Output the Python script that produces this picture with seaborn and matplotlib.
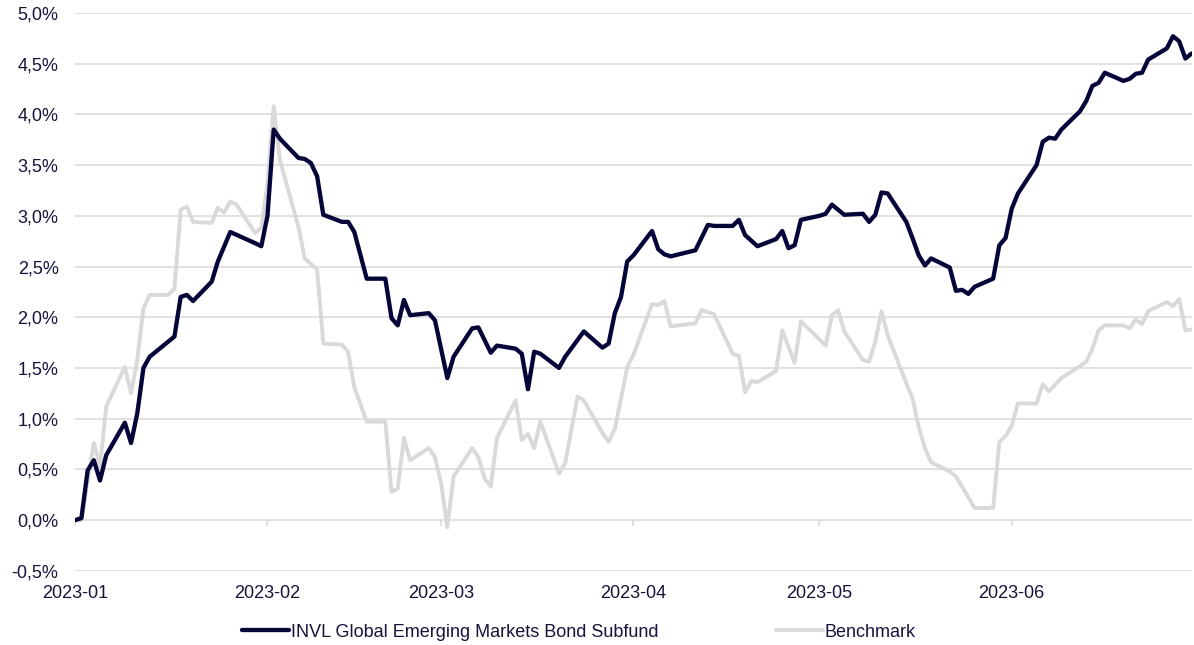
import matplotlib
matplotlib.use("Agg")
import matplotlib.pyplot as plt
import matplotlib.dates as mdates
from matplotlib.ticker import FuncFormatter, MultipleLocator
import seaborn as sns
import pandas as pd

# fund returns, %
fund_dates = [
    "2023-01-01", "2023-01-02", "2023-01-03", "2023-01-04", "2023-01-05", "2023-01-06",
    "2023-01-09", "2023-01-10", "2023-01-11", "2023-01-12", "2023-01-13", "2023-01-17",
    "2023-01-18", "2023-01-19", "2023-01-20", "2023-01-23", "2023-01-24", "2023-01-26",
    "2023-01-30", "2023-01-31", "2023-02-01", "2023-02-02", "2023-02-03", "2023-02-06",
    "2023-02-07", "2023-02-08", "2023-02-09", "2023-02-10", "2023-02-13", "2023-02-14",
    "2023-02-15", "2023-02-17", "2023-02-20", "2023-02-21", "2023-02-22", "2023-02-23",
    "2023-02-24", "2023-02-27", "2023-02-28", "2023-03-02", "2023-03-03", "2023-03-06",
    "2023-03-07", "2023-03-09", "2023-03-10", "2023-03-13", "2023-03-14", "2023-03-15",
    "2023-03-16", "2023-03-17", "2023-03-20", "2023-03-21", "2023-03-24", "2023-03-27",
    "2023-03-28", "2023-03-29", "2023-03-30", "2023-03-31", "2023-04-01", "2023-04-04",
    "2023-04-05", "2023-04-06", "2023-04-07", "2023-04-11", "2023-04-13", "2023-04-14",
    "2023-04-17", "2023-04-18", "2023-04-19", "2023-04-21", "2023-04-24", "2023-04-25",
    "2023-04-26", "2023-04-27", "2023-04-28", "2023-05-01", "2023-05-02", "2023-05-03",
    "2023-05-05", "2023-05-08", "2023-05-09", "2023-05-10", "2023-05-11", "2023-05-12",
    "2023-05-15", "2023-05-16", "2023-05-17", "2023-05-18", "2023-05-19", "2023-05-22",
    "2023-05-23", "2023-05-24", "2023-05-25", "2023-05-26", "2023-05-29", "2023-05-30",
    "2023-05-31", "2023-06-01", "2023-06-02", "2023-06-05", "2023-06-06", "2023-06-07",
    "2023-06-08", "2023-06-09", "2023-06-12", "2023-06-13", "2023-06-14", "2023-06-15",
    "2023-06-16", "2023-06-19", "2023-06-20", "2023-06-21", "2023-06-22", "2023-06-23",
    "2023-06-26", "2023-06-27", "2023-06-28", "2023-06-29", "2023-06-30",
]
fund_values = [
    0.00, 0.02, 0.49, 0.59, 0.39, 0.64,
    0.96, 0.76, 1.05, 1.50, 1.61, 1.81,
    2.20, 2.22, 2.16, 2.35, 2.55, 2.84,
    2.73, 2.70, 3.00, 3.85, 3.76, 3.57,
    3.56, 3.52, 3.39, 3.01, 2.94, 2.94,
    2.84, 2.38, 2.38, 1.99, 1.92, 2.17,
    2.02, 2.04, 1.97, 1.40, 1.61, 1.89,
    1.90, 1.65, 1.72, 1.69, 1.64, 1.29,
    1.66, 1.64, 1.50, 1.61, 1.86, 1.70,
    1.74, 2.04, 2.20, 2.55, 2.61, 2.85,
    2.67, 2.62, 2.60, 2.66, 2.91, 2.90,
    2.90, 2.96, 2.81, 2.70, 2.77, 2.85,
    2.68, 2.71, 2.96, 3.00, 3.02, 3.11,
    3.01, 3.02, 2.94, 3.01, 3.23, 3.22,
    2.94, 2.78, 2.61, 2.51, 2.58, 2.49,
    2.26, 2.27, 2.23, 2.30, 2.38, 2.71,
    2.78, 3.07, 3.22, 3.50, 3.73, 3.77,
    3.76, 3.85, 4.03, 4.13, 4.28, 4.31,
    4.41, 4.33, 4.35, 4.40, 4.41, 4.54,
    4.65, 4.77, 4.72, 4.55, 4.60,
]

# benchmark returns, %
bench_dates = [
    "2023-01-01", "2023-01-02", "2023-01-04", "2023-01-05", "2023-01-06", "2023-01-09",
    "2023-01-10", "2023-01-11", "2023-01-12", "2023-01-13", "2023-01-16", "2023-01-17",
    "2023-01-18", "2023-01-19", "2023-01-20", "2023-01-23", "2023-01-24", "2023-01-25",
    "2023-01-26", "2023-01-27", "2023-01-30", "2023-01-31", "2023-02-01", "2023-02-02",
    "2023-02-03", "2023-02-06", "2023-02-07", "2023-02-09", "2023-02-10", "2023-02-13",
    "2023-02-14", "2023-02-15", "2023-02-17", "2023-02-20", "2023-02-21", "2023-02-22",
    "2023-02-23", "2023-02-24", "2023-02-27", "2023-02-28", "2023-03-01", "2023-03-02",
    "2023-03-03", "2023-03-06", "2023-03-07", "2023-03-08", "2023-03-09", "2023-03-10",
    "2023-03-13", "2023-03-14", "2023-03-15", "2023-03-16", "2023-03-17", "2023-03-20",
    "2023-03-21", "2023-03-23", "2023-03-24", "2023-03-27", "2023-03-28", "2023-03-29",
    "2023-03-30", "2023-03-31", "2023-04-01", "2023-04-04", "2023-04-05", "2023-04-06",
    "2023-04-07", "2023-04-11", "2023-04-12", "2023-04-14", "2023-04-17", "2023-04-18",
    "2023-04-19", "2023-04-20", "2023-04-21", "2023-04-24", "2023-04-25", "2023-04-27",
    "2023-04-28", "2023-05-02", "2023-05-03", "2023-05-04", "2023-05-05", "2023-05-08",
    "2023-05-09", "2023-05-10", "2023-05-11", "2023-05-12", "2023-05-15", "2023-05-16",
    "2023-05-17", "2023-05-18", "2023-05-19", "2023-05-22", "2023-05-23", "2023-05-24",
    "2023-05-26", "2023-05-29", "2023-05-30", "2023-05-31", "2023-06-01", "2023-06-02",
    "2023-06-05", "2023-06-06", "2023-06-07", "2023-06-09", "2023-06-13", "2023-06-14",
    "2023-06-15", "2023-06-16", "2023-06-19", "2023-06-20", "2023-06-21", "2023-06-22",
    "2023-06-23", "2023-06-26", "2023-06-27", "2023-06-28", "2023-06-29", "2023-06-30",
]
bench_values = [
    0.00, 0.00, 0.76, 0.53, 1.12, 1.51,
    1.25, 1.58, 2.09, 2.22, 2.22, 2.28,
    3.06, 3.09, 2.94, 2.93, 3.08, 3.03,
    3.14, 3.11, 2.83, 2.88, 3.32, 4.08,
    3.55, 2.89, 2.58, 2.47, 1.74, 1.73,
    1.66, 1.31, 0.97, 0.97, 0.28, 0.31,
    0.81, 0.59, 0.71, 0.62, 0.36, -0.07,
    0.43, 0.71, 0.62, 0.41, 0.33, 0.81,
    1.18, 0.79, 0.85, 0.71, 0.97, 0.46,
    0.56, 1.22, 1.18, 0.86, 0.77, 0.90,
    1.20, 1.51, 1.63, 2.13, 2.12, 2.16,
    1.91, 1.94, 2.07, 2.03, 1.64, 1.62,
    1.26, 1.37, 1.36, 1.47, 1.87, 1.55,
    1.96, 1.72, 2.02, 2.07, 1.86, 1.58,
    1.56, 1.76, 2.06, 1.82, 1.35, 1.20,
    0.92, 0.71, 0.57, 0.48, 0.43, 0.33,
    0.12, 0.12, 0.77, 0.83, 0.93, 1.15,
    1.15, 1.34, 1.27, 1.40, 1.56, 1.69,
    1.87, 1.92, 1.92, 1.89, 1.98, 1.93,
    2.06, 2.15, 2.11, 2.18, 1.87, 1.88,
]

month_ticks = ["2023-01-01", "2023-02-01", "2023-03-01", "2023-04-01", "2023-05-01", "2023-06-01"]

fund_name = "INVL Global Emerging Markets Bond Subfund"
bench_name = "Benchmark"

fund_df = pd.DataFrame({"date": pd.to_datetime(fund_dates), "value": fund_values})
bench_df = pd.DataFrame({"date": pd.to_datetime(bench_dates), "value": bench_values})

sns.set_style("white")
plt.rcParams["font.family"] = ["Liberation Sans", "DejaVu Sans"]

text_color = "#14143c"
grid_color = "#d9d9d9"

fig = plt.figure(figsize=(11.94, 6.45), dpi=100)
ax = fig.add_axes([0.063, 0.115, 0.935, 0.865])

sns.lineplot(data=fund_df, x="date", y="value", color="#05053a", linewidth=3.1,
             label=fund_name, ax=ax, zorder=3)
sns.lineplot(data=bench_df, x="date", y="value", color="#d9d9d9", linewidth=2.8,
             label=bench_name, ax=ax, zorder=2)

ax.set_ylim(-0.5, 5.0)
ax.set_xlim(pd.Timestamp("2023-01-01"), pd.Timestamp("2023-06-30"))
ax.yaxis.set_major_locator(MultipleLocator(0.5))
ax.yaxis.set_major_formatter(FuncFormatter(lambda v, p: f"{v:.1f}%".replace(".", ",")))
ax.grid(axis="y", color=grid_color, linewidth=1.1)
ax.set_axisbelow(True)
for s in ax.spines.values():
    s.set_visible(False)

ticks = pd.to_datetime(month_ticks)
ax.set_xticks(ticks)
ax.xaxis.set_major_formatter(mdates.DateFormatter("%Y-%m"))
# small tick marks sitting on the zero line
ax.vlines(ticks, -0.06, 0, color=grid_color, linewidth=1.1, zorder=1)

ax.tick_params(axis="both", length=0, labelsize=13, labelcolor=text_color)
ax.tick_params(axis="x", pad=10)
ax.tick_params(axis="y", pad=12)
ax.set_xlabel("")
ax.set_ylabel("")

handles, labels = ax.get_legend_handles_labels()
ax.get_legend().remove()
fig.legend(handles, labels, loc="center", bbox_to_anchor=(0.485, 0.02), ncol=2,
           frameon=False, fontsize=13, labelcolor=text_color, handlelength=2.6,
           handletextpad=0.1, columnspacing=6.5)

fig.savefig("out.png", dpi=100)
